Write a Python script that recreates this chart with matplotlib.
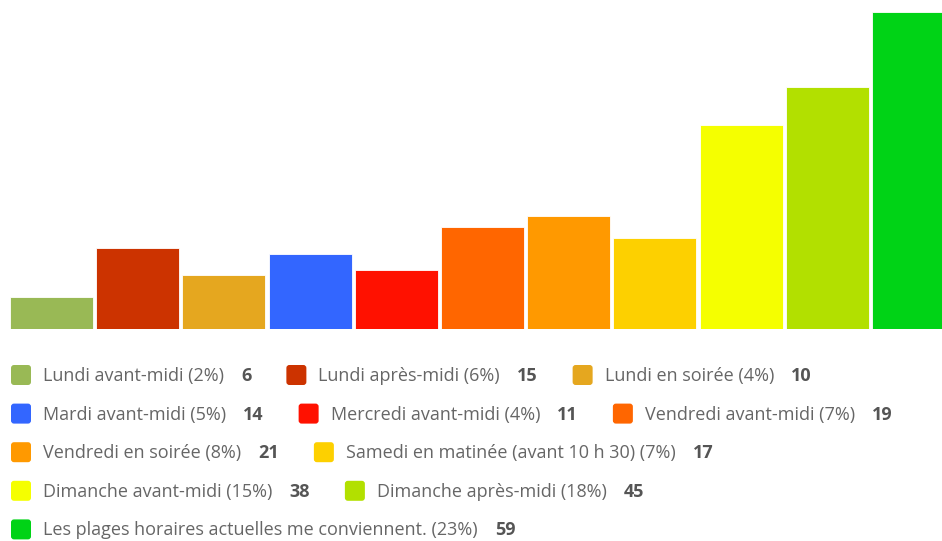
import matplotlib

matplotlib.use("Agg")
import matplotlib.pyplot as plt
from matplotlib.patches import FancyBboxPatch

labels = [
    "Lundi avant-midi (2%)",
    "Lundi après-midi (6%)",
    "Lundi en soirée (4%)",
    "Mardi avant-midi (5%)",
    "Mercredi avant-midi (4%)",
    "Vendredi avant-midi (7%)",
    "Vendredi en soirée (8%)",
    "Samedi en matinée (avant 10 h 30) (7%)",
    "Dimanche avant-midi (15%)",
    "Dimanche après-midi (18%)",
    "Les plages horaires actuelles me conviennent. (23%)",
]
counts = [6, 15, 10, 14, 11, 19, 21, 17, 38, 45, 59]
colors = [
    "#99b955", "#cc3300", "#e5a71f", "#3366ff", "#ff1100", "#ff6600",
    "#ff9900", "#fdd000", "#f5ff00", "#b2e000", "#00d316",
]

W, H = 942, 541
fig = plt.figure(figsize=(W / 100, H / 100), dpi=100)

# bar area in pixels
pitch = 86.2
bar_w = 83.0
left_px = 10
bottom_px = 329
top_px = 12
x0 = -bar_w / pitch / 2 - left_px / pitch
ax = fig.add_axes([0, (H - bottom_px) / H, 1, (bottom_px - top_px) / H])
ax.bar(range(len(counts)), counts, width=bar_w / pitch, color=colors,
       edgecolor="white", linewidth=0.6)
ax.set_xlim(x0, x0 + W / pitch)
ax.set_ylim(0, max(counts))
ax.axis("off")

# legend drawn in pixel coordinates
lg = fig.add_axes([0, 0, 1, 1], zorder=3)
lg.set_xlim(0, W)
lg.set_ylim(H, 0)
lg.axis("off")
renderer = fig.canvas.get_renderer()

font = ["Open Sans", "DejaVu Sans"]
fs = 13
x, y = 11, 376
row_h = 38.6
max_x = 940
for lab, n, c in zip(labels, counts, colors):
    t1 = lg.text(0, 0, lab, fontsize=fs, family=font, color="#666666", va="center")
    t2 = lg.text(0, 0, str(n), fontsize=fs, family=font, color="#555555",
                 fontweight="bold", va="center")
    w1 = t1.get_window_extent(renderer).width
    w2 = t2.get_window_extent(renderer).width
    item_w = 20 + 12 + w1 + 17 + w2
    if x + item_w > max_x and x > 11:
        x = 11
        y += row_h
    lg.add_patch(FancyBboxPatch((x, y - 11), 20, 20, boxstyle="round,pad=0,rounding_size=3",
                                facecolor=c, edgecolor="none"))
    t1.set_position((x + 32, y))
    t2.set_position((x + 32 + w1 + 17, y))
    x += item_w + 35

fig.savefig("out.png", dpi=100)
